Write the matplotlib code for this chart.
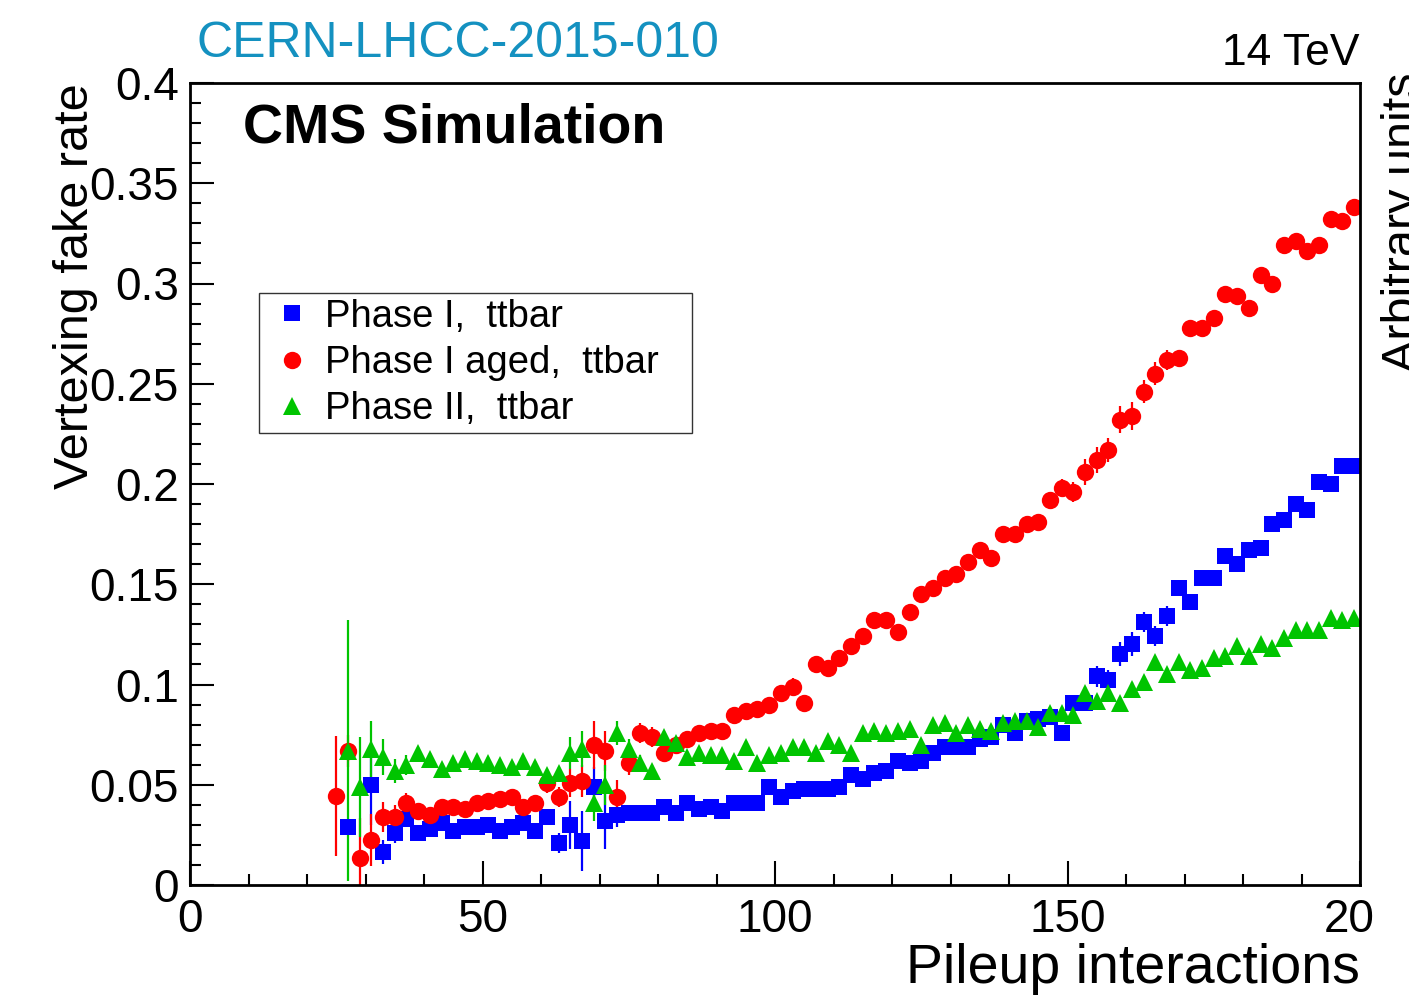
import numpy as np
import matplotlib
matplotlib.use('Agg')
import matplotlib.pyplot as plt
import matplotlib.transforms as mtransforms
from matplotlib.ticker import MultipleLocator, FixedLocator
from matplotlib.lines import Line2D

# pileup bin centres (2-wide bins)
pileup = np.arange(25, 200, 2)

# vertexing fake rate per pileup bin, nan where the bin is empty
phase1 = [np.nan, 0.029, np.nan, 0.050, 0.0165, 0.026, 0.033, 0.026, 0.028, 0.031,
          0.027, 0.029, 0.029, 0.030, 0.027, 0.029, 0.031, 0.027, 0.034, 0.021,
          0.030, 0.022, 0.049, 0.032, 0.035, 0.036, 0.036, 0.036, 0.039, 0.036,
          0.041, 0.038, 0.039, 0.037, 0.041, 0.041, 0.041, 0.049, 0.044, 0.047,
          0.048, 0.048, 0.048, 0.049, 0.055, 0.053, 0.056, 0.057, 0.062, 0.061,
          0.062, 0.066, 0.069, 0.069, 0.069, 0.073, 0.074, 0.080, 0.076, 0.082,
          0.083, 0.084, 0.076, 0.091, 0.091, 0.104, 0.102, 0.115, 0.120, 0.131,
          0.124, 0.134, 0.148, 0.141, 0.153, 0.153, 0.164, 0.160, 0.167, 0.168,
          0.180, 0.182, 0.190, 0.187, 0.201, 0.200, 0.209, 0.209]
phase1_err = [0.0, 0.004, 0.0, 0.020, 0.006, 0.005, 0.004, 0.003, 0.003, 0.003,
              0.003, 0.003, 0.003, 0.003, 0.003, 0.003, 0.003, 0.003, 0.003, 0.005,
              0.012, 0.015, 0.010, 0.014, 0.006, 0.004, 0.003, 0.003, 0.003, 0.003,
              0.003, 0.003, 0.003, 0.003, 0.003, 0.003, 0.003, 0.003, 0.003, 0.003,
              0.003, 0.003, 0.003, 0.003, 0.003, 0.003, 0.003, 0.003, 0.003, 0.003,
              0.003, 0.003, 0.003, 0.003, 0.003, 0.003, 0.003, 0.003, 0.003, 0.003,
              0.003, 0.003, 0.003, 0.003, 0.003, 0.005, 0.005, 0.006, 0.006, 0.005,
              0.005, 0.005, 0.004, 0.003, 0.003, 0.003, 0.003, 0.003, 0.003, 0.003,
              0.003, 0.003, 0.003, 0.003, 0.003, 0.003, 0.003, 0.003]

phase1_aged = [0.0444, 0.0668, 0.0135, 0.0224, 0.034, 0.034, 0.041, 0.037, 0.035, 0.039,
               0.039, 0.038, 0.041, 0.042, 0.043, 0.044, 0.039, 0.041, 0.051, 0.044,
               0.051, 0.052, 0.070, 0.067, 0.044, 0.061, 0.076, 0.074, 0.066, 0.070,
               0.073, 0.076, 0.077, 0.077, 0.085, 0.087, 0.088, 0.090, 0.096, 0.099,
               0.091, 0.110, 0.108, 0.113, 0.119, 0.124, 0.132, 0.132, 0.126, 0.136,
               0.145, 0.148, 0.153, 0.155, 0.161, 0.167, 0.163, 0.175, 0.175, 0.180,
               0.181, 0.192, 0.198, 0.196, 0.206, 0.212, 0.217, 0.232, 0.234, 0.246,
               0.255, 0.262, 0.263, 0.278, 0.278, 0.283, 0.295, 0.294, 0.288, 0.304,
               0.300, 0.319, 0.321, 0.316, 0.319, 0.332, 0.331, 0.338]
phase1_aged_err = [0.030, 0.008, 0.020, 0.013, 0.0075, 0.006, 0.005, 0.004, 0.004, 0.004,
                   0.004, 0.004, 0.004, 0.004, 0.004, 0.004, 0.004, 0.004, 0.005, 0.005,
                   0.007, 0.008, 0.012, 0.010, 0.0085, 0.006, 0.005, 0.005, 0.004, 0.004,
                   0.004, 0.004, 0.004, 0.004, 0.004, 0.004, 0.004, 0.004, 0.004, 0.004,
                   0.004, 0.004, 0.004, 0.004, 0.004, 0.004, 0.004, 0.004, 0.004, 0.004,
                   0.004, 0.004, 0.004, 0.004, 0.004, 0.004, 0.004, 0.004, 0.004, 0.004,
                   0.004, 0.004, 0.0045, 0.005, 0.0064, 0.0065, 0.006, 0.0068, 0.007, 0.0057,
                   0.0058, 0.005, 0.004, 0.003, 0.003, 0.003, 0.003, 0.003, 0.003, 0.003,
                   0.003, 0.003, 0.003, 0.003, 0.003, 0.003, 0.003, 0.003]

phase2 = [np.nan, 0.067, 0.049, 0.068, 0.064, 0.057, 0.060, 0.066, 0.063, 0.058,
          0.061, 0.063, 0.062, 0.061, 0.060, 0.059, 0.062, 0.059, 0.055, 0.056,
          0.066, 0.068, 0.041, 0.050, 0.076, 0.068, 0.061, 0.057, 0.074, 0.071,
          0.064, 0.066, 0.065, 0.065, 0.062, 0.069, 0.061, 0.065, 0.066, 0.069,
          0.069, 0.066, 0.072, 0.070, 0.066, 0.076, 0.077, 0.076, 0.077, 0.078,
          0.070, 0.080, 0.081, 0.076, 0.080, 0.078, 0.077, 0.081, 0.082, 0.082,
          0.079, 0.086, 0.086, 0.085, 0.096, 0.092, 0.096, 0.091, 0.098, 0.101,
          0.111, 0.105, 0.111, 0.107, 0.108, 0.113, 0.114, 0.119, 0.114, 0.120,
          0.118, 0.123, 0.127, 0.127, 0.127, 0.133, 0.132, 0.133]
phase2_err = [0.0, 0.065, 0.025, 0.014, 0.009, 0.006, 0.005, 0.003, 0.003, 0.003,
              0.003, 0.003, 0.003, 0.003, 0.003, 0.003, 0.003, 0.003, 0.003, 0.003,
              0.008, 0.009, 0.009, 0.010, 0.006, 0.005, 0.004, 0.003, 0.003, 0.003,
              0.003, 0.003, 0.003, 0.003, 0.003, 0.003, 0.003, 0.003, 0.003, 0.003,
              0.003, 0.003, 0.003, 0.003, 0.003, 0.003, 0.003, 0.003, 0.003, 0.003,
              0.003, 0.003, 0.003, 0.003, 0.003, 0.003, 0.003, 0.003, 0.003, 0.003,
              0.003, 0.003, 0.003, 0.003, 0.003, 0.003, 0.003, 0.003, 0.003, 0.003,
              0.003, 0.003, 0.003, 0.003, 0.003, 0.003, 0.003, 0.003, 0.003, 0.003,
              0.003, 0.003, 0.003, 0.003, 0.003, 0.003, 0.003, 0.003]

labels = ['Phase I,  ttbar', 'Phase I aged,  ttbar', 'Phase II,  ttbar']
xticks = [0, 50, 100, 150, 200]
xtick_labels = ['0', '50', '100', '150', '20']
yticks = [0, 0.05, 0.1, 0.15, 0.2, 0.25, 0.3, 0.35, 0.4]
ytick_labels = ['0', '0.05', '0.1', '0.15', '0.2', '0.25', '0.3', '0.35', '0.4']

plt.rcParams['font.family'] = ['Liberation Sans', 'DejaVu Sans']

W, H = 1409, 1008
fig = plt.figure(figsize=(W / 100, H / 100), dpi=100)
ax = fig.add_axes([190 / W, 1 - 885 / H, 1170 / W, 802 / H])

styles = [
    (phase1, phase1_err, 's', '#0000ff', 11.5),
    (phase1_aged, phase1_aged_err, 'o', '#ff0000', 12.5),
    (phase2, phase2_err, '^', '#00c400', 12.5),
]
handles = []
for (vals, errs, mk, col, ms), lab in zip(styles, labels):
    ax.errorbar(pileup, vals, yerr=errs, fmt=mk, color=col, ms=ms, mew=0,
                elinewidth=1.6, capsize=0)
    handles.append(Line2D([], [], marker=mk, ls='none', color=col, ms=ms, mew=0))

ax.set_xlim(0, 200)
ax.set_ylim(0, 0.4)

ax.xaxis.set_major_locator(FixedLocator(xticks))
ax.set_xticklabels(xtick_labels)
ax.xaxis.set_minor_locator(MultipleLocator(10))
ax.yaxis.set_major_locator(FixedLocator(yticks))
ax.set_yticklabels(ytick_labels)
ax.yaxis.set_minor_locator(MultipleLocator(0.01))

ax.tick_params(which='both', direction='in', top=False, right=False, width=1.5)
ax.tick_params(which='major', length=17, labelsize=33)
ax.tick_params(which='minor', length=8)
ax.tick_params(axis='x', pad=9)
ax.tick_params(axis='y', pad=8)
for sp in ax.spines.values():
    sp.set_linewidth(2)

# the last x label sits left of its tick
lbl = ax.xaxis.get_major_ticks()[-1].label1
lbl.set_horizontalalignment('right')
lbl.set_transform(lbl.get_transform() +
                  mtransforms.ScaledTranslation(0.15, 0, fig.dpi_scale_trans))

ax.set_xlabel('Pileup interactions', fontsize=40, loc='right')
ax.xaxis.set_label_coords(1.0, -0.0723)
ax.set_ylabel('Vertexing fake rate', fontsize=35, loc='top')
ax.yaxis.set_label_coords(-0.079, 1.0)

leg = ax.legend(handles, labels, loc='upper left',
                bbox_to_anchor=(259 / W, 1 - 293 / H, 433 / W, 0.0),
                bbox_transform=fig.transFigure, mode='expand',
                fontsize=27.5, frameon=True, fancybox=False, borderpad=0.15,
                borderaxespad=0, handlelength=1.42, handletextpad=0.15,
                labelspacing=0.27)
leg.get_frame().set_edgecolor('black')
leg.get_frame().set_linewidth(1.0)

fig.text(197 / W, 1 - 57 / H, 'CERN-LHCC-2015-010', color='#1491c0',
         fontsize=36, ha='left', va='baseline')
fig.text(1360 / W, 1 - 65 / H, '14 TeV', fontsize=32, ha='right', va='baseline')
fig.text(243 / W, 1 - 143 / H, 'CMS Simulation', fontsize=40, fontweight='bold',
         ha='left', va='baseline')
fig.text(1381 / W, 1 - 73 / H, 'Arbitrary units', fontsize=35, rotation=90,
         ha='left', va='top')

fig.savefig('out.png', dpi=100)
